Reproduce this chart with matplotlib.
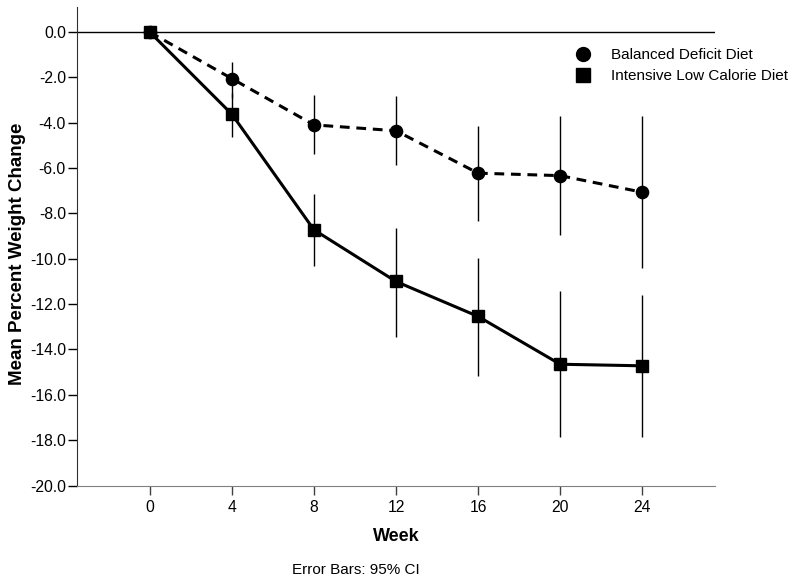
"""Mean percent weight change by week for two diet groups, with 95% CI bars."""

import matplotlib

matplotlib.use("Agg")
import matplotlib.pyplot as plt
import numpy as np

plt.rcParams["font.family"] = ["Liberation Sans", "DejaVu Sans"]

WEEKS = [0, 4, 8, 12, 16, 20, 24]

BALANCED_MEAN = [0.0, -2.05, -4.09, -4.35, -6.22, -6.33, -7.06]
BALANCED_LOW = [0.0, -2.9, -5.38, -5.88, -8.32, -8.97, -10.41]
BALANCED_HIGH = [0.0, -1.3, -2.77, -2.81, -4.13, -3.69, -3.69]

INTENSIVE_MEAN = [0.0, -3.62, -8.72, -11.0, -12.54, -14.65, -14.72]
INTENSIVE_LOW = [0.0, -4.62, -10.3, -13.43, -15.15, -17.84, -17.88]
INTENSIVE_HIGH = [0.0, -2.7, -7.13, -8.62, -9.97, -11.40, -11.59]

Y_TICKS = [0.0, -2.0, -4.0, -6.0, -8.0, -10.0, -12.0, -14.0, -16.0, -18.0, -20.0]


def draw_series(axis, mean, low, high, marker, linestyle, label):
    mean = np.asarray(mean)
    yerr = [mean - np.asarray(low), np.asarray(high) - mean]
    axis.errorbar(WEEKS, mean, yerr=yerr, fmt="none", ecolor="black",
                  elinewidth=1.0, capsize=0, zorder=2)
    axis.plot(WEEKS, mean, color="black", linestyle=linestyle, linewidth=2.2,
              marker=marker, markersize=8.8, zorder=3,
              dashes=(3.2, 2.2) if linestyle == "--" else (None, None))
    # legend-only handle: marker without line
    axis.plot([], [], color="black", linestyle="none", marker=marker,
              markersize=10, label=label)


figure = plt.figure(figsize=(8, 5.84), dpi=100)
axis = figure.add_axes([77 / 800, 1 - 485.5 / 584, (715 - 77) / 800, (485.5 - 7) / 584])

draw_series(axis, BALANCED_MEAN, BALANCED_LOW, BALANCED_HIGH, "o", "--",
            "Balanced Deficit Diet")
draw_series(axis, INTENSIVE_MEAN, INTENSIVE_LOW, INTENSIVE_HIGH, "s", "-",
            "Intensive Low Calorie Diet")

axis.axhline(0, color="black", linewidth=1.0, zorder=1)

axis.set_xlim(-3.55, 27.55)
axis.set_ylim(-20.0, 1.11)
axis.set_xticks(WEEKS)
axis.set_xticklabels([str(w) for w in WEEKS])
axis.set_yticks(Y_TICKS)
axis.set_yticklabels([f"{v:.1f}" for v in Y_TICKS])
axis.tick_params(axis="both", labelsize=11.3, length=6.5, width=1.0, direction="out")
axis.tick_params(axis="x", pad=4, color="#404040")
axis.tick_params(axis="y", pad=1.5)

for side in ("top", "right"):
    axis.spines[side].set_visible(False)
axis.spines["left"].set_color("#303030")
axis.spines["bottom"].set_color("#808080")

axis.set_xlabel("Week", fontsize=13, fontweight="bold", labelpad=9)
axis.set_ylabel("Mean Percent Weight Change", fontsize=13.5, fontweight="bold")
axis.yaxis.set_label_coords(-0.08, 0.484)

axis.legend(loc="upper left", bbox_to_anchor=(575 / 800, 1 - 48 / 584),
            bbox_transform=figure.transFigure, frameon=False, fontsize=11,
            handlelength=1.0, handletextpad=1.33, labelspacing=0.45,
            borderpad=0, borderaxespad=0)

figure.text(356 / 800, 1 - 570 / 584, "Error Bars: 95% CI", fontsize=11,
            ha="center", va="center")

figure.savefig("out.png", dpi=100)
